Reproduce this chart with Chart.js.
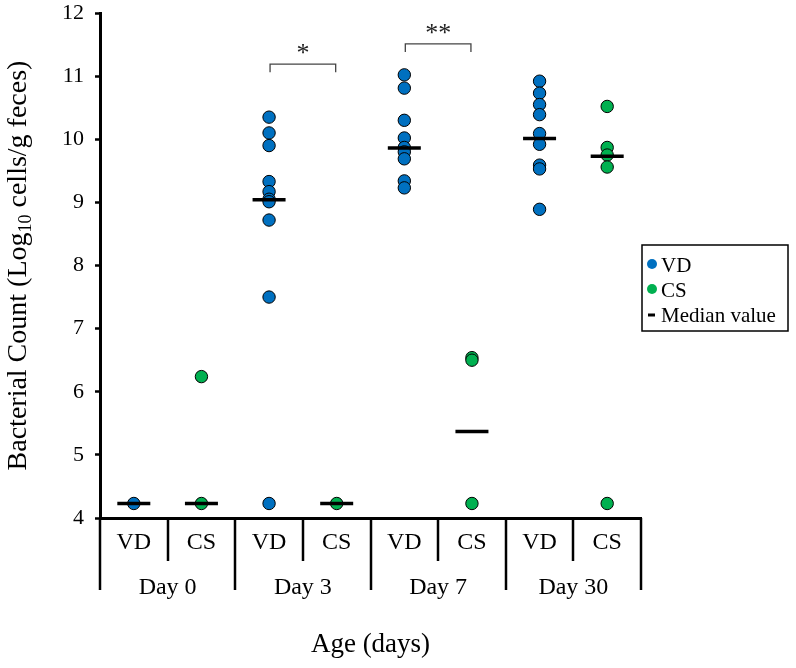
<!DOCTYPE html>
<html>
<head>
<meta charset="utf-8">
<script src="https://cdn.jsdelivr.net/npm/chart.js@4.4.0/dist/chart.umd.min.js"></script>
<style>
  body { margin: 0; background: #fff; }
  #wrap { width: 796px; height: 668px; }
</style>
</head>
<body>
<div id="wrap"><canvas id="scatterChart" width="796" height="668"></canvas></div>
<script>
// groups and sub categories on the x axis
const groups = ['Day 0', 'Day 3', 'Day 7', 'Day 30'];
const subLabels = ['VD', 'CS'];

// log10 cells/g feces
const vdDay0 = [4.23];
const vdDay3 = [10.35, 10.10, 9.90, 9.33, 9.17, 9.05, 9.01, 8.72, 7.50, 4.23];
const vdDay7 = [11.02, 10.81, 10.30, 10.02, 9.87, 9.80, 9.69, 9.34, 9.23];
const vdDay30 = [10.92, 10.73, 10.55, 10.39, 10.09, 9.92, 9.59, 9.53, 8.89];

const csDay0 = [6.24, 4.23];
const csDay3 = [4.23];
const csDay7 = [6.54, 6.50, 4.23];
const csDay30 = [10.52, 9.87, 9.75, 9.56, 4.23];

const medianVD = [4.23, 9.04, 9.86, 10.01];
const medianCS = [4.23, 4.23, 5.37, 9.73];

const yTicks = [4, 5, 6, 7, 8, 9, 10, 11, 12];

// significance brackets (which day, bracket height, label)
const sigGroups = [1, 2];
const sigTops = [11.19, 11.51];
const sigLabels = ['*', '**'];

const blue = '#0070C0';
const green = '#00B050';
const serif = '"Liberation Serif", "Times New Roman", serif';

const vdByDay = [vdDay0, vdDay3, vdDay7, vdDay30];
const csByDay = [csDay0, csDay3, csDay7, csDay30];

const vdPoints = vdByDay.flatMap((vals, g) => vals.map(v => ({x: g * 2, y: v})));
const csPoints = csByDay.flatMap((vals, g) => vals.map(v => ({x: g * 2 + 1, y: v})));
const medianPoints = medianVD.map((v, g) => ({x: g * 2, y: v}))
  .concat(medianCS.map((v, g) => ({x: g * 2 + 1, y: v})));

// everything around the plot: category labels, separators, brackets, legend, y title
const decorations = {
  id: 'decorations',
  afterDraw(chart) {
    const ctx = chart.ctx;
    const xs = chart.scales.x;
    const ys = chart.scales.y;
    const area = chart.chartArea;
    const base = area.bottom;

    ctx.save();
    ctx.fillStyle = '#000';
    ctx.strokeStyle = '#000';
    ctx.textAlign = 'center';
    ctx.textBaseline = 'middle';

    // sub labels VD / CS
    ctx.font = '24px ' + serif;
    for (let i = 0; i < groups.length * 2; i++) {
      ctx.fillText(subLabels[i % 2], xs.getPixelForValue(i), base + 25);
    }
    // separators
    ctx.lineWidth = 2.5;
    for (let i = 0; i <= groups.length * 2; i++) {
      const px = Math.round(xs.getPixelForValue(i - 0.5));
      const len = (i % 2 === 0) ? 72 : 43;
      ctx.beginPath();
      ctx.moveTo(px, base);
      ctx.lineTo(px, base + len);
      ctx.stroke();
    }
    // group labels
    groups.forEach((g, k) => {
      ctx.fillText(g, xs.getPixelForValue(k * 2 + 0.5), base + 70);
    });

    // x title
    ctx.font = '27px ' + serif;
    ctx.fillText('Age (days)', (area.left + area.right) / 2, base + 127);

    // y title with subscript
    ctx.save();
    ctx.translate(19, (area.top + area.bottom) / 2);
    ctx.rotate(-Math.PI / 2);
    const big = '28px ' + serif;
    const small = '18px ' + serif;
    const parts = [['Bacterial Count (Log', big, 0], ['10', small, 7], [' cells/g feces)', big, 0]];
    let total = 0;
    parts.forEach(p => { ctx.font = p[1]; total += ctx.measureText(p[0]).width; });
    let cx = -total / 2;
    ctx.textAlign = 'left';
    parts.forEach(p => {
      ctx.font = p[1];
      ctx.fillText(p[0], cx, p[2]);
      cx += ctx.measureText(p[0]).width;
    });
    ctx.restore();

    // significance brackets
    ctx.strokeStyle = '#444';
    ctx.lineWidth = 1.3;
    sigGroups.forEach((g, k) => {
      const x1 = xs.getPixelForValue(g * 2) + 1;
      const x2 = xs.getPixelForValue(g * 2 + 1) - 1;
      const yt = ys.getPixelForValue(sigTops[k]);
      ctx.beginPath();
      ctx.moveTo(x1, yt + 8);
      ctx.lineTo(x1, yt);
      ctx.lineTo(x2, yt);
      ctx.lineTo(x2, yt + 8);
      ctx.stroke();
      ctx.font = '26px ' + serif;
      ctx.fillStyle = '#222';
      ctx.textAlign = 'center';
      ctx.fillText(sigLabels[k], (x1 + x2) / 2, yt - 10);
    });

    // legend box
    const lx = 642, ly = 245, lw = 146, lh = 86;
    ctx.strokeStyle = '#000';
    ctx.lineWidth = 1.5;
    ctx.strokeRect(lx, ly, lw, lh);
    ctx.font = '21px ' + serif;
    ctx.textAlign = 'left';
    ctx.fillStyle = '#000';
    chart.data.datasets.forEach((ds, i) => {
      const rowY = ly + 20 + i * 25;
      if (ds.label === 'Median value') {
        ctx.fillStyle = '#000';
        ctx.fillRect(lx + 6, rowY - 1.5, 7, 3);
      } else {
        ctx.fillStyle = ds.backgroundColor;
        ctx.beginPath();
        ctx.arc(lx + 10, rowY - 1, 5, 0, Math.PI * 2);
        ctx.fill();
      }
      ctx.fillStyle = '#000';
      ctx.fillText(ds.label, lx + 19, rowY + 1);
    });

    ctx.restore();
  }
};

const ctx = document.getElementById('scatterChart').getContext('2d');
const chart = new Chart(ctx, {
  type: 'scatter',
  data: {
    datasets: [
      {
        label: 'VD',
        data: vdPoints,
        backgroundColor: blue,
        borderColor: '#000',
        borderWidth: 1,
        pointRadius: 6.2,
        order: 2
      },
      {
        label: 'CS',
        data: csPoints,
        backgroundColor: green,
        borderColor: '#000',
        borderWidth: 1,
        pointRadius: 6.2,
        order: 3
      },
      {
        label: 'Median value',
        data: medianPoints,
        pointStyle: 'line',
        pointRadius: 16.5,
        borderColor: '#000',
        borderWidth: 3.5,
        order: 1
      }
    ]
  },
  options: {
    responsive: false,
    animation: false,
    layout: {
      autoPadding: false,
      padding: {top: 13, right: 155, left: 0, bottom: 0}
    },
    scales: {
      x: {
        type: 'linear',
        min: -0.5,
        max: 7.5,
        grid: {display: false},
        ticks: {display: false},
        border: {color: '#000', width: 3},
        afterFit: function (scale) {
          scale.height = 150;
          scale.paddingLeft = 0;
          scale.paddingRight = 0;
        }
      },
      y: {
        min: 4,
        max: 12,
        afterBuildTicks: function (scale) {
          scale.ticks = yTicks.map(v => ({value: v}));
        },
        ticks: {
          color: '#000',
          padding: 11,
          font: {family: serif, size: 22}
        },
        grid: {
          drawOnChartArea: false,
          tickLength: 5,
          tickColor: '#000',
          tickWidth: 2.5
        },
        border: {color: '#000', width: 3},
        afterFit: function (scale) {
          scale.width = 100;
          scale.paddingTop = 0;
          scale.paddingBottom = 0;
        }
      }
    },
    plugins: {
      legend: {display: false},
      tooltip: {enabled: false}
    }
  },
  plugins: [decorations]
});
console.log('area', JSON.stringify(chart.chartArea));
</script>
</body>
</html>
